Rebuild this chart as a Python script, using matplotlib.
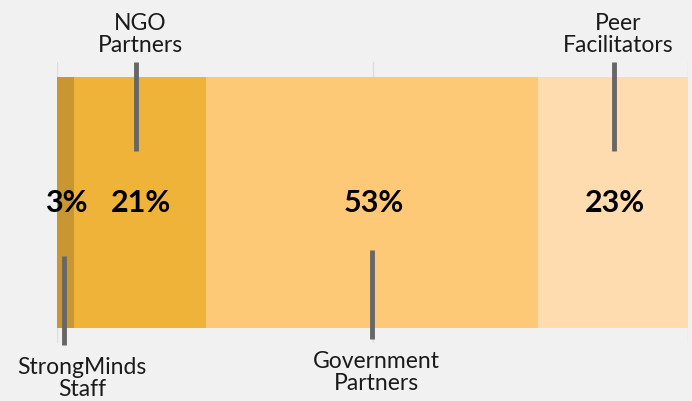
import matplotlib

matplotlib.use("Agg")
import matplotlib.pyplot as plt
import numpy as np

# share of people in each group (percent of total)
groups = ["StrongMinds\nStaff", "NGO\nPartners", "Government\nPartners", "Peer\nFacilitators"]
shares = [2.7, 20.9, 52.6, 23.8]
pct_labels = ["3%", "21%", "53%", "23%"]
colors = ["#C99731", "#EFB33A", "#FDC976", "#FEDCB0"]
label_side = ["bottom", "top", "bottom", "top"]

bg = "#F0F1F0"
plt.rcParams["font.family"] = ["Lato", "DejaVu Sans"]

fig = plt.figure(figsize=(6.92, 4.02), dpi=100, facecolor=bg)
W, H = 692, 402
ax_left, ax_right, ax_top, ax_bot = 57, 688, 63, 344
ax = fig.add_axes([ax_left / W, (H - ax_bot) / H,
                   (ax_right - ax_left) / W, (ax_bot - ax_top) / H])
ax.set_facecolor(bg)
ax.set_xlim(0, 100)
ax.set_ylim(-0.5, 0.5)
for s in ax.spines.values():
    s.set_visible(False)
ax.set_xticks([0, 50, 100])
ax.tick_params(length=0, labelbottom=False)
ax.grid(axis="x", color="#DCDEDC", linewidth=1)
ax.set_axisbelow(True)
ax.set_yticks([])

bar_h = (328 - 77) / (ax_bot - ax_top)
lefts = np.concatenate([[0], np.cumsum(shares)[:-1]])
ax.barh(0, shares, left=lefts, height=bar_h, color=colors, zorder=2)

px = 100 / (ax_right - ax_left)  # data units per pixel in x
trans = ax.get_xaxis_transform()


def ay(py):
    return (ax_bot - py) / (ax_bot - ax_top)


mids = lefts + np.array(shares) / 2
line_x = [mids[0] - 2 * px, mids[1] - 4 * px, mids[2], mids[3] + 1 * px]
text_x = [25 * px, mids[1] + 0 * px, mids[2] + 5 * px, mids[3] + 5 * px]
pct_x = [mids[0] + 0.5 * px, mids[1] + 1 * px, mids[2] + 2 * px, mids[3] + 2 * px]
for i, g in enumerate(groups):
    if label_side[i] == "top":
        y0, y1 = ay(63), ay(152)
        ax.text(text_x[i], ay(52), g, transform=trans, ha="center", va="baseline",
                fontsize=16.5, color="#1A1A1A", linespacing=1.05)
    else:
        off = 6 if i == 0 else 0
        y0, y1 = ay(251 + off), ay(340 + off)
        ax.text(text_x[i], ay(351 + off), g, transform=trans, ha="center", va="top",
                fontsize=16.5, color="#1A1A1A", linespacing=1.05)
    ax.plot([line_x[i], line_x[i]], [y0, y1], transform=trans, color="#676767",
            linewidth=3.5, solid_capstyle="butt", clip_on=False, zorder=4)
    ax.text(pct_x[i], 0, pct_labels[i], ha="center", va="center",
            fontsize=22, fontweight="bold", color="black", zorder=5)

fig.savefig("out.png", dpi=100, facecolor=bg)
